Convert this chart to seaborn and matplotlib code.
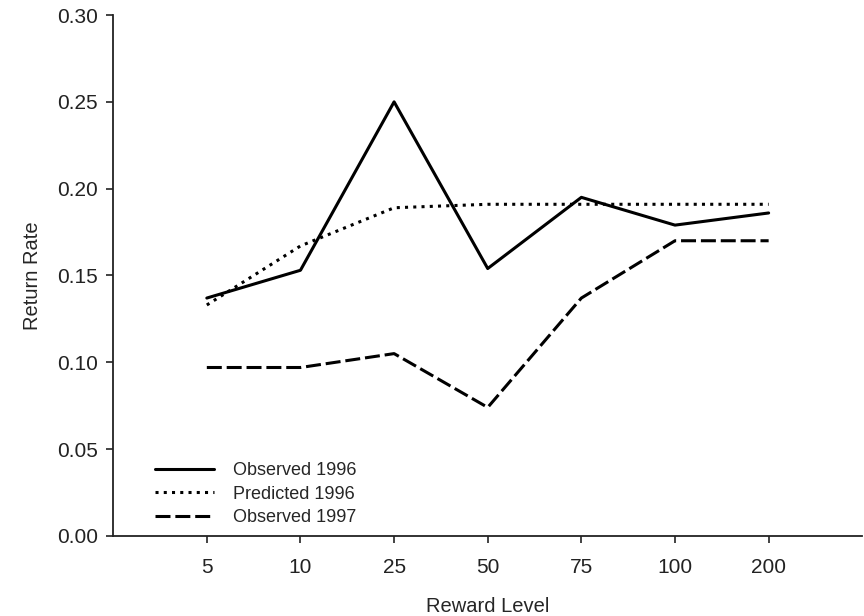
import pandas as pd
import matplotlib
matplotlib.use('Agg')
import matplotlib.pyplot as plt
import seaborn as sns

# Datos
reward_levels = ['5', '10', '25', '50', '75', '100', '200']
observed_1996 = [0.137, 0.153, 0.250, 0.154, 0.195, 0.179, 0.186]
predicted_1996 = [0.133, 0.167, 0.189, 0.191, 0.191, 0.191, 0.191]
observed_1997 = [0.097, 0.097, 0.105, 0.074, 0.137, 0.170, 0.170]
series_names = ['Observed 1996', 'Predicted 1996', 'Observed 1997']

# Tabla larga para seaborn
rows = []
for name, vals in zip(series_names, [observed_1996, predicted_1996, observed_1997]):
    for lvl, v in zip(reward_levels, vals):
        rows.append({'Reward Level': lvl, 'Return Rate': v, 'serie': name})
df = pd.DataFrame(rows)

sns.set_style('ticks')
plt.rcParams['font.family'] = ['Liberation Sans', 'DejaVu Sans']

fig = plt.figure(figsize=(8.64, 6.16), dpi=100)
ax = fig.add_axes([0.131, 0.13, 0.867, 0.8456])

sns.lineplot(data=df, x='Reward Level', y='Return Rate', hue='serie', style='serie',
             palette=['black'] * 3, hue_order=series_names, style_order=series_names,
             dashes={'Observed 1996': '', 'Predicted 1996': (1, 1.7), 'Observed 1997': (4.9, 1.6)},
             linewidth=2.2, ax=ax)

ax.set_xlim(-1, 7)
ax.set_ylim(0, 0.30)
ax.set_yticks([0, 0.05, 0.10, 0.15, 0.20, 0.25, 0.30])
ax.set_yticklabels(['0.00', '0.05', '0.10', '0.15', '0.20', '0.25', '0.30'])
ax.tick_params(direction='out', length=5, width=1.2, labelsize=15, colors='#222222')
ax.tick_params(axis='x', pad=11)
ax.tick_params(axis='y', pad=6)
for s in ['left', 'bottom']:
    ax.spines[s].set_linewidth(1.3)
    ax.spines[s].set_color('#222222')
sns.despine(ax=ax)

ax.set_xlabel('Reward Level', fontsize=14.5, labelpad=14)
ax.set_ylabel('Return Rate', fontsize=14.5, labelpad=11)

leg = ax.legend(loc='lower left', bbox_to_anchor=(0.034, -0.012), frameon=False, fontsize=13,
                handlelength=3.3, handletextpad=1.0, labelspacing=0.35)

plt.savefig('out.png', dpi=100)
